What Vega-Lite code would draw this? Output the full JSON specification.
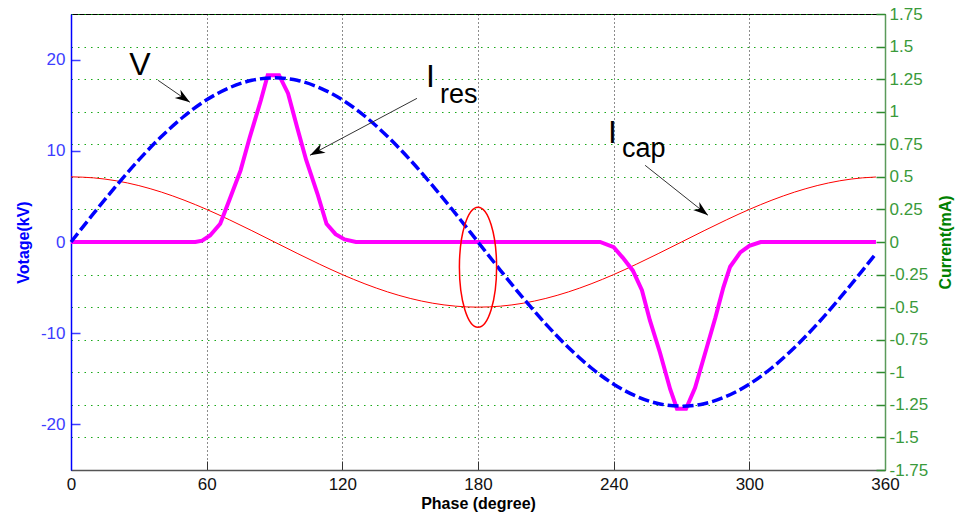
{
  "$schema": "https://vega.github.io/schema/vega-lite/v6.json",
  "autosize": {"type": "none"},
  "padding": {"left": 71, "top": 14, "right": 72, "bottom": 46},
  "width": 814,
  "height": 456,
  "background": "white",
  "config": {
    "font": "Liberation Sans",
    "view": {"stroke": "black", "strokeWidth": 1},
    "locale": {"number": {"decimal": ".", "thousands": ",", "grouping": [3], "currency": ["$", ""], "minus": "-"}},
    "axis": {"labelFont": "Liberation Sans", "titleFont": "Liberation Sans"}
  },
  "encoding": {
    "x": {
      "field": "deg", "type": "quantitative",
      "scale": {"domain": [0, 360], "nice": false, "zero": false},
      "axis": {
        "values": [0, 60, 120, 180, 240, 300, 360],
        "title": "Phase (degree)",
        "titleFontSize": 16, "titleFontWeight": "bold", "titleColor": "black",
        "titleBaseline": "alphabetic", "titleY": 38,
        "labelFontSize": 17, "labelColor": "#111111", "labelFlush": false, "labelOverlap": false,
        "labelPadding": 15,
        "tickSize": -9, "tickColor": "#333333", "tickWidth": 1,
        "domainColor": "#555555", "domainWidth": 1.5,
        "grid": true, "gridColor": "#000000", "gridDash": [1, 3], "gridWidth": 1, "gridOpacity": 0.9
      }
    }
  },
  "layer": [
    {
      "encoding": {
        "y": {
          "field": "ma", "type": "quantitative",
          "scale": {"domain": [-1.75, 1.75], "nice": false, "zero": false},
          "axis": {
            "orient": "right",
            "values": [-1.75, -1.5, -1.25, -1, -0.75, -0.5, -0.25, 0, 0.25, 0.5, 0.75, 1, 1.25, 1.5, 1.75],
            "format": ".2~f",
            "title": "Current(mA)",
            "titleColor": "#008000", "titleFontSize": 16, "titleFontWeight": "bold",
            "titleAngle": -90, "titleBaseline": "alphabetic", "titleAlign": "center",
            "titleX": 65, "titleY": 228,
            "labelFontSize": 17, "labelColor": "#3a9a3a", "labelOverlap": false, "labelPadding": 13,
            "tickSize": -9, "tickColor": "#2e8b2e", "tickWidth": 1.5,
            "domainColor": "#5a9a5a", "domainWidth": 1.5,
            "grid": true, "gridColor": "#00a000", "gridDash": [1.5, 5], "gridWidth": 1.2, "gridOpacity": 0.9
          }
        }
      },
      "layer": [
        {
          "data": {"values": [
            {"deg": 0, "ma": 0.5}, {"deg": 10, "ma": 0.4924}, {"deg": 20, "ma": 0.4698}, {"deg": 30, "ma": 0.433},
            {"deg": 40, "ma": 0.383}, {"deg": 50, "ma": 0.3214}, {"deg": 60, "ma": 0.25}, {"deg": 70, "ma": 0.171},
            {"deg": 80, "ma": 0.0868}, {"deg": 90, "ma": 0}, {"deg": 100, "ma": -0.0868}, {"deg": 110, "ma": -0.171},
            {"deg": 120, "ma": -0.25}, {"deg": 130, "ma": -0.3214}, {"deg": 140, "ma": -0.383}, {"deg": 150, "ma": -0.433},
            {"deg": 160, "ma": -0.4698}, {"deg": 170, "ma": -0.4924}, {"deg": 180, "ma": -0.5}, {"deg": 190, "ma": -0.4924},
            {"deg": 200, "ma": -0.4698}, {"deg": 210, "ma": -0.433}, {"deg": 220, "ma": -0.383}, {"deg": 230, "ma": -0.3214},
            {"deg": 240, "ma": -0.25}, {"deg": 250, "ma": -0.171}, {"deg": 260, "ma": -0.0868}, {"deg": 270, "ma": 0},
            {"deg": 280, "ma": 0.0868}, {"deg": 290, "ma": 0.171}, {"deg": 300, "ma": 0.25}, {"deg": 310, "ma": 0.3214},
            {"deg": 320, "ma": 0.383}, {"deg": 330, "ma": 0.433}, {"deg": 340, "ma": 0.4698}, {"deg": 350, "ma": 0.4924},
            {"deg": 356, "ma": 0.4988}
          ]},
          "mark": {"type": "line", "color": "#ff0000", "strokeWidth": 1, "interpolate": "monotone"}
        },
        {
          "data": {"values": [
            {"deg": 0, "ma": 0}, {"deg": 55, "ma": 0}, {"deg": 58, "ma": 0.01}, {"deg": 61.5, "ma": 0.05},
            {"deg": 66, "ma": 0.14}, {"deg": 70, "ma": 0.32}, {"deg": 75, "ma": 0.55}, {"deg": 79, "ma": 0.8},
            {"deg": 84, "ma": 1.09}, {"deg": 87, "ma": 1.28}, {"deg": 92, "ma": 1.28}, {"deg": 96, "ma": 1.14},
            {"deg": 100, "ma": 0.88}, {"deg": 104, "ma": 0.63}, {"deg": 109, "ma": 0.37}, {"deg": 113, "ma": 0.14},
            {"deg": 117, "ma": 0.06}, {"deg": 121, "ma": 0.02}, {"deg": 126, "ma": 0}, {"deg": 234, "ma": 0},
            {"deg": 240, "ma": -0.04}, {"deg": 244, "ma": -0.12}, {"deg": 248.5, "ma": -0.22}, {"deg": 252.5, "ma": -0.37},
            {"deg": 256, "ma": -0.6}, {"deg": 260.5, "ma": -0.85}, {"deg": 265, "ma": -1.13}, {"deg": 268, "ma": -1.28},
            {"deg": 272, "ma": -1.28}, {"deg": 276, "ma": -1.12}, {"deg": 280.5, "ma": -0.85}, {"deg": 285, "ma": -0.58},
            {"deg": 288.5, "ma": -0.35}, {"deg": 291.5, "ma": -0.19}, {"deg": 296, "ma": -0.08}, {"deg": 300, "ma": -0.03},
            {"deg": 305, "ma": 0}, {"deg": 356, "ma": 0}
          ]},
          "mark": {"type": "line", "color": "#ff00ff", "strokeWidth": 4}
        }
      ]
    },
    {
      "encoding": {
        "y": {
          "field": "kv", "type": "quantitative",
          "scale": {"domain": [-25, 25], "nice": false, "zero": false},
          "axis": {
            "orient": "left",
            "values": [-20, -10, 0, 10, 20],
            "title": "Votage(kV)",
            "titleColor": "#0000ff", "titleFontSize": 16, "titleFontWeight": "bold",
            "titleAngle": -90, "titleBaseline": "alphabetic", "titleAlign": "center",
            "titleX": -43, "titleY": 228,
            "labelFontSize": 17, "labelColor": "#3d3dff", "labelOverlap": false, "labelPadding": 15,
            "tickSize": -9, "tickColor": "#3d3dff", "tickWidth": 1.5,
            "domainColor": "#0000ff", "domainWidth": 1.5,
            "grid": false
          }
        }
      },
      "layer": [
        {
          "data": {"values": [
            {"deg": 0, "kv": 0}, {"deg": 10, "kv": 3.13}, {"deg": 20, "kv": 6.16}, {"deg": 30, "kv": 9.0},
            {"deg": 40, "kv": 11.57}, {"deg": 50, "kv": 13.79}, {"deg": 60, "kv": 15.59}, {"deg": 70, "kv": 16.91},
            {"deg": 80, "kv": 17.73}, {"deg": 90, "kv": 18}, {"deg": 100, "kv": 17.73}, {"deg": 110, "kv": 16.91},
            {"deg": 120, "kv": 15.59}, {"deg": 130, "kv": 13.79}, {"deg": 140, "kv": 11.57}, {"deg": 150, "kv": 9.0},
            {"deg": 160, "kv": 6.16}, {"deg": 170, "kv": 3.13}, {"deg": 180, "kv": 0}, {"deg": 190, "kv": -3.13},
            {"deg": 200, "kv": -6.16}, {"deg": 210, "kv": -9.0}, {"deg": 220, "kv": -11.57}, {"deg": 230, "kv": -13.79},
            {"deg": 240, "kv": -15.59}, {"deg": 250, "kv": -16.91}, {"deg": 260, "kv": -17.73}, {"deg": 270, "kv": -18},
            {"deg": 280, "kv": -17.73}, {"deg": 290, "kv": -16.91}, {"deg": 300, "kv": -15.59}, {"deg": 310, "kv": -13.79},
            {"deg": 320, "kv": -11.57}, {"deg": 330, "kv": -9.0}, {"deg": 340, "kv": -6.16}, {"deg": 350, "kv": -3.13},
            {"deg": 356, "kv": -1.26}
          ]},
          "mark": {"type": "line", "color": "#0000ff", "strokeWidth": 3.5, "strokeDash": [11, 4], "interpolate": "monotone"}
        },
        {
          "data": {"values": [{"kv": 20}, {"kv": 10}, {"kv": -10}, {"kv": -20}]},
          "mark": {"type": "rule", "color": "#3d3dff", "strokeWidth": 1.5},
          "encoding": {"x": {"datum": 356}, "x2": {"datum": 360}}
        },
        {
          "data": {"values": [
            {"deg": 38.5, "kv": 17.73, "deg2": 52.6, "kv2": 15.32},
            {"deg": 153, "kv": 15.75, "deg2": 105.7, "kv2": 9.51},
            {"deg": 253.9, "kv": 8.41, "deg2": 281.7, "kv2": 2.93}
          ]},
          "mark": {"type": "rule", "color": "#333333", "strokeWidth": 1},
          "encoding": {"x2": {"field": "deg2"}, "y2": {"field": "kv2"}}
        },
        {
          "data": {"values": [{"deg": 52.6, "kv": 15.32}]},
          "mark": {"type": "point", "shape": "M0,0 L0.5,1.5 L0,1.05 L-0.5,1.5 Z", "filled": true, "color": "black", "opacity": 1, "size": 400, "angle": 124.5}
        },
        {
          "data": {"values": [{"deg": 105.7, "kv": 9.51}]},
          "mark": {"type": "point", "shape": "M0,0 L0.5,1.5 L0,1.05 L-0.5,1.5 Z", "filled": true, "color": "black", "opacity": 1, "size": 400, "angle": 242}
        },
        {
          "data": {"values": [{"deg": 281.7, "kv": 2.93}]},
          "mark": {"type": "point", "shape": "M0,0 L0.5,1.5 L0,1.05 L-0.5,1.5 Z", "filled": true, "color": "black", "opacity": 1, "size": 400, "angle": 128.4}
        },
        {
          "data": {"values": [
            {"deg": 30.5, "kv": 18.28, "label": "V"},
            {"deg": 159.0, "kv": 16.96, "label": "I"},
            {"deg": 239.5, "kv": 10.82, "label": "I"}
          ]},
          "mark": {"type": "text", "fontSize": 32, "align": "center", "baseline": "alphabetic", "color": "black", "font": "Liberation Sans"},
          "encoding": {"text": {"field": "label"}}
        },
        {
          "data": {"values": [
            {"deg": 163.2, "kv": 15.21, "label": "res"},
            {"deg": 243.7, "kv": 9.35, "label": "cap"}
          ]},
          "mark": {"type": "text", "fontSize": 27, "align": "left", "baseline": "alphabetic", "color": "black", "font": "Liberation Sans"},
          "encoding": {"text": {"field": "label"}}
        },
        {
          "data": {"values": [{"deg": 180, "kv": -2.77}]},
          "mark": {
            "type": "point",
            "shape": "M0,-1 C0.1712,-1 0.31,-0.5523 0.31,0 C0.31,0.5523 0.1712,1 0,1 C-0.1712,1 -0.31,0.5523 -0.31,0 C-0.31,-0.5523 -0.1712,-1 0,-1 Z",
            "filled": false, "stroke": "#ff0000", "strokeWidth": 1.5, "opacity": 1, "size": 14400
          }
        }
      ]
    }
  ],
  "resolve": {"scale": {"y": "independent"}}
}
